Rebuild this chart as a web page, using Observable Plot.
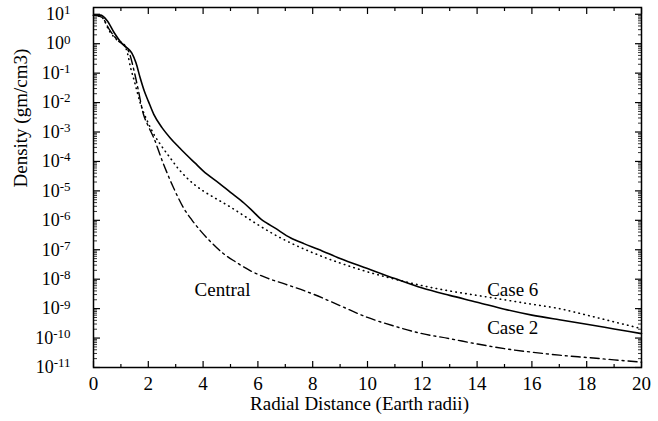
<!DOCTYPE html>
<html>
<head>
<meta charset="utf-8">
<script src="https://cdn.jsdelivr.net/npm/d3@7"></script>
<script src="https://cdn.jsdelivr.net/npm/@observablehq/plot@0.6"></script>
<style>
  html, body { margin: 0; padding: 0; background: #fff; }
  #chart { width: 658px; height: 421px; }
  #chart svg, #chart svg text, #chart svg tspan { font-family: "Liberation Serif", "Times New Roman", Times, "DejaVu Serif", serif !important; }
</style>
</head>
<body>
<div id="chart"></div>
<script>
// ---- Data (y values stored as log10 of density) ----
const case2X   = [0, 0.25, 0.5, 0.75, 1.0, 1.2, 1.4, 1.55, 1.7, 1.85, 2.0, 2.2, 2.5, 2.8, 3.1, 3.4, 3.7, 4.0, 4.6, 5.0, 5.5, 5.8, 6.1, 6.3, 6.6, 7.2, 7.7, 8.2, 9, 10, 11, 12, 13, 14, 15, 16, 17, 18, 19, 20];
const case2Exp = [0.97, 0.97, 0.78, 0.38, 0.05, -0.12, -0.32, -0.65, -1.15, -1.6, -1.95, -2.4, -2.85, -3.2, -3.5, -3.78, -4.05, -4.32, -4.75, -5.05, -5.42, -5.68, -5.95, -6.08, -6.25, -6.6, -6.8, -6.98, -7.3, -7.64, -7.98, -8.3, -8.55, -8.78, -9.02, -9.22, -9.38, -9.53, -9.69, -9.85];

const case6X   = [0, 0.3, 0.6, 0.9, 1.1, 1.25, 1.35, 1.5, 1.7, 1.95, 2.2, 2.5, 2.8, 3.1, 3.4, 3.7, 4.0, 4.5, 5.0, 5.5, 6.0, 6.5, 7.0, 7.5, 8.0, 9, 10, 11, 12, 13, 14, 15, 16, 17, 18, 19, 20];
const case6Exp = [0.97, 0.9, 0.4, 0.1, 0.0, -0.36, -0.8, -1.3, -2.0, -2.6, -3.07, -3.5, -3.88, -4.25, -4.55, -4.8, -5.0, -5.28, -5.55, -5.85, -6.15, -6.43, -6.68, -6.9, -7.1, -7.45, -7.75, -8.0, -8.22, -8.4, -8.55, -8.7, -8.85, -9.0, -9.22, -9.45, -9.68];

const centralX   = [0, 0.3, 0.6, 0.9, 1.1, 1.3, 1.5, 1.62, 1.82, 2.0, 2.2, 2.55, 2.9, 3.3, 3.6, 3.9, 4.3, 4.7, 5.2, 5.7, 6.3, 7.0, 8.0, 9, 10, 11, 12, 13, 14, 15, 16, 17, 18, 19, 20];
const centralExp = [0.97, 0.9, 0.45, 0.1, -0.05, -0.3, -1.0, -1.51, -2.39, -2.8, -3.2, -4.08, -4.85, -5.6, -6.0, -6.35, -6.75, -7.1, -7.42, -7.7, -7.95, -8.17, -8.5, -8.9, -9.3, -9.6, -9.85, -10.02, -10.2, -10.36, -10.48, -10.58, -10.66, -10.74, -10.82];

const labelNames = ["Central", "Case 6", "Case 2"];
const labelX     = [4.71, 15.3, 15.3];
const labelExp   = [-8.38, -8.38, -9.64];

const xMajor = [0, 2, 4, 6, 8, 10, 12, 14, 16, 18, 20];
const xMinor = [1, 3, 5, 7, 9, 11, 13, 15, 17, 19];
const yMajor = [1e1, 1e0, 1e-1, 1e-2, 1e-3, 1e-4, 1e-5, 1e-6, 1e-7, 1e-8, 1e-9, 1e-10, 1e-11];
const yMinorMult = [2, 3, 4, 5, 6, 7, 8, 9];

const xTitle = "Radial Distance (Earth radii)";
const yTitle = "Density (gm/cm3)";

// ---- Build tables ----
const toRows = (xs, es) => xs.map((x, i) => ({x, y: Math.pow(10, es[i])}));
const case2 = toRows(case2X, case2Exp);
const case6 = toRows(case6X, case6Exp);
const central = toRows(centralX, centralExp);
const labels = labelNames.map((t, i) => ({t, x: labelX[i], y: Math.pow(10, labelExp[i])}));

const yTop = Math.pow(10, 1.23);
const yMinor = yMajor.flatMap(v => yMinorMult.map(m => m * v)).filter(v => v < yTop);

const font = "Liberation Serif, Times New Roman, DejaVu Serif, serif";
const blank = () => "";

const plot = Plot.plot({
  width: 658,
  height: 421,
  marginLeft: 93,
  marginRight: 17,
  marginTop: 7,
  marginBottom: 54,
  style: {fontFamily: font, color: "#000", background: "#fff"},
  x: {domain: [0, 20]},
  y: {type: "log", domain: [1e-11, yTop]},
  marks: [
    Plot.axisX(xMajor, {anchor: "bottom", tickSize: -6, tickFormat: blank, label: null, strokeWidth: 1.2}),
    Plot.axisX(xMinor, {anchor: "bottom", tickSize: -3, tickFormat: blank, label: null, strokeWidth: 1.2}),
    Plot.axisX(xMajor, {anchor: "top", tickSize: -6, tickFormat: blank, label: null, strokeWidth: 1.2}),
    Plot.axisX(xMinor, {anchor: "top", tickSize: -3, tickFormat: blank, label: null, strokeWidth: 1.2}),
    Plot.axisY(yMajor, {anchor: "left", tickSize: -7, tickFormat: blank, label: null, strokeWidth: 1.2}),
    Plot.axisY(yMinor, {anchor: "left", tickSize: -4, tickFormat: blank, label: null, strokeWidth: 0.8}),
    Plot.axisY(yMajor, {anchor: "right", tickSize: -7, tickFormat: blank, label: null, strokeWidth: 1.2}),
    Plot.axisY(yMinor, {anchor: "right", tickSize: -4, tickFormat: blank, label: null, strokeWidth: 0.8}),
    Plot.axisX(xMajor, {anchor: "bottom", tickSize: 0, tickPadding: 9, fontSize: 19, fontFamily: font, label: null, tickFormat: d => String(d)}),
    Plot.axisY(yMajor, {anchor: "left", tickSize: 0, tickPadding: 23, fontSize: 18, fontFamily: font, label: null,
      tickFormat: d => "10^" + Math.round(Math.log10(d))}),
    Plot.frame({stroke: "#000", strokeWidth: 1.5}),
    Plot.line(central, {x: "x", y: "y", curve: "monotone-x", stroke: "#000", strokeWidth: 1.4, strokeDasharray: "9,4,2,4"}),
    Plot.line(case6, {x: "x", y: "y", curve: "monotone-x", stroke: "#000", strokeWidth: 1.6, strokeDasharray: "0.5,4.5", strokeLinecap: "round"}),
    Plot.line(case2, {x: "x", y: "y", curve: "monotone-x", stroke: "#000", strokeWidth: 1.6}),
    Plot.text(labels, {x: "x", y: "y", text: "t", fontSize: 19, fontFamily: font, fill: "#000"}),
    Plot.text([xTitle], {text: d => d, frameAnchor: "bottom", dy: 42, dx: -8, fontSize: 19, fontFamily: font, fill: "#000"}),
    Plot.text([yTitle], {text: d => d, frameAnchor: "left", dx: -73, rotate: -90, fontSize: 19, fontFamily: font, fill: "#000"})
  ]
});

// superscript exponents for y tick labels
const ns = "http://www.w3.org/2000/svg";
plot.querySelectorAll('g[aria-label="y-axis tick label"] text').forEach(t => {
  const m = t.textContent.match(/^10\^(-?\d+)$/);
  if (!m) return;
  t.textContent = "";
  const base = document.createElementNS(ns, "tspan");
  base.textContent = "10";
  const sup = document.createElementNS(ns, "tspan");
  sup.setAttribute("dy", "-0.45em");
  sup.setAttribute("font-size", "13");
  sup.textContent = m[1];
  t.append(base, sup);
});

document.getElementById("chart").append(plot);
</script>
</body>
</html>
